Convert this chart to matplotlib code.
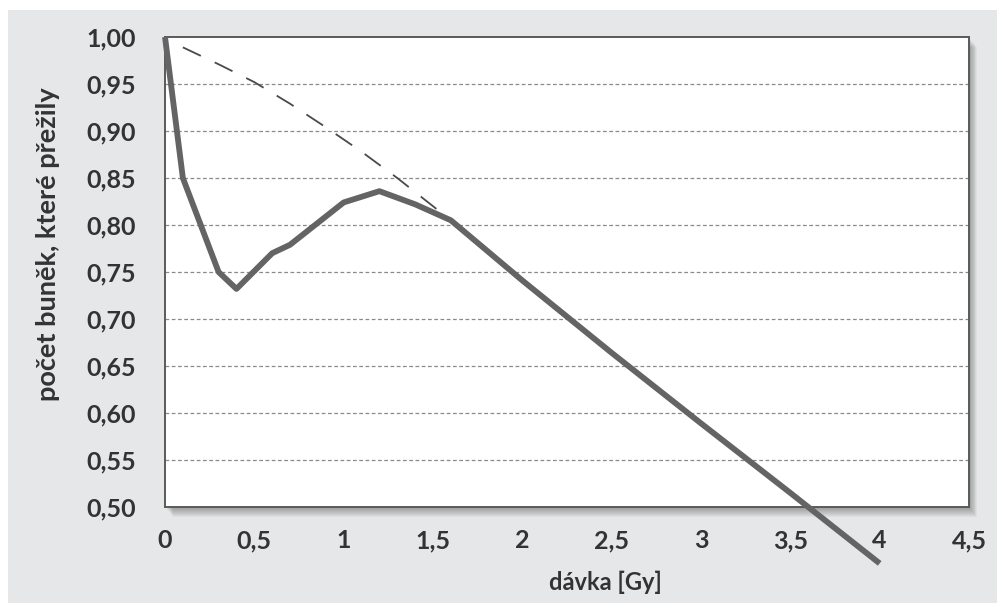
import numpy as np
import matplotlib
matplotlib.use('Agg')
import matplotlib.pyplot as plt
from matplotlib.patches import Rectangle
from matplotlib.ticker import FuncFormatter

# measured survival curve (solid) and the expected curve without the low-dose dip (dashed)
dose = [0, 0.1, 0.3, 0.4, 0.6, 0.7, 1.0, 1.2, 1.4, 1.6, 2.0, 2.5, 3.0, 3.5, 4.0]
survival = [1.00, 0.85, 0.75, 0.732, 0.77, 0.779, 0.824, 0.836, 0.822, 0.805,
            0.741, 0.664, 0.589, 0.515, 0.44]

dose_exp = [0.1, 0.3, 0.5, 0.7, 0.9, 1.1, 1.3, 1.5, 1.6]
survival_exp = [0.989, 0.971, 0.952, 0.929, 0.904, 0.878, 0.850, 0.820, 0.805]

xticks = [0, 0.5, 1, 1.5, 2, 2.5, 3, 3.5, 4, 4.5]
yticks = [0.50, 0.55, 0.60, 0.65, 0.70, 0.75, 0.80, 0.85, 0.90, 0.95, 1.00]

W, H = 997, 603
fig = plt.figure(figsize=(W/100, H/100), dpi=100, facecolor='white')

# grey panel behind the chart
fig.patches.append(Rectangle((8/W, 0), 1, 1 - 10/H, transform=fig.transFigure,
                             facecolor='#e6e7e8', edgecolor='none', zorder=-2))

l, r, t, b = 165, 969, 37, 507
ax = fig.add_axes([l/W, 1 - b/H, (r - l)/W, (b - t)/H])
ax.set_zorder(1)

# soft drop shadow under the plot box
for i in range(1, 11):
    fig.patches.append(Rectangle(((l + i*0.8)/W, 1 - (b + i)/H), (r - l)/W, (b - t)/H,
                                 transform=fig.transFigure, facecolor='black',
                                 edgecolor='none', alpha=0.035, zorder=-1))

ax.set_facecolor('white')
ax.set_xlim(0, 4.5)
ax.set_ylim(0.5, 1.0)
ax.set_xticks(xticks)
ax.set_yticks(yticks)
ax.xaxis.set_major_formatter(FuncFormatter(lambda v, p: ('%g' % v).replace('.', ',')))
ax.yaxis.set_major_formatter(FuncFormatter(lambda v, p: ('%.2f' % v).replace('.', ',')))
ax.tick_params(length=0, labelsize=18, labelcolor='#333333')
ax.tick_params(axis='y', pad=21)
ax.tick_params(axis='x', pad=16)
for lab in ax.get_xticklabels() + ax.get_yticklabels():
    lab.set_fontfamily('Lato')
    lab.set_fontweight('bold')

for y in yticks[1:-1]:
    ax.axhline(y, color='#8a8a8a', lw=0.9, ls=(0, (3, 2)), zorder=1)

for s in ax.spines.values():
    s.set_color('#5a5a5a')
    s.set_linewidth(1.4)

ax.plot(dose_exp, survival_exp, color='#4a4a4a', lw=1.3, ls=(0, (11, 8.5)), zorder=2)
ax.plot(dose, survival, color='#646464', lw=4.2, solid_joinstyle='round',
        solid_capstyle='butt', clip_on=False, zorder=3)

ax.set_ylabel('počet buněk, které přežily', fontsize=19.5, color='#333333',
              family='Lato', fontweight='bold')
ax.yaxis.set_label_coords(-0.131, 0.56)
ax.set_xlabel('dávka [Gy]', fontsize=17, color='#333333',
              family='Lato', fontweight='bold')
ax.xaxis.set_label_coords(0.548, -0.135)

fig.savefig('out.png', dpi=100)
